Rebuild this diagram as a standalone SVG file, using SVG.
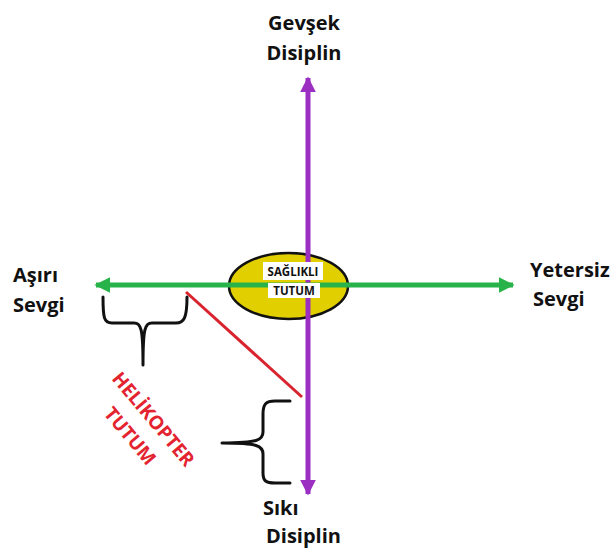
<svg xmlns="http://www.w3.org/2000/svg" width="616" height="550" viewBox="0 0 616 550">
<style>
.lbl{font-family:"Open Sans","Liberation Sans",sans-serif;font-weight:bold;font-size:20px;fill:#111}
.in{font-family:"Open Sans","Liberation Sans",sans-serif;font-weight:bold;font-size:11.5px;fill:#111;text-anchor:middle}
.heli{font-family:"Open Sans","Liberation Sans",sans-serif;font-weight:bold;font-size:19px;fill:#e42330}
.brace{fill:none;stroke:#111;stroke-width:3;stroke-linejoin:round;stroke-linecap:round}
</style>
<defs>
<marker id="ap" viewBox="0 0 10 10" refX="9" refY="5" markerWidth="3.2" markerHeight="3.2" markerUnits="strokeWidth" orient="auto">
<path d="M0,0 L10,5 L0,10 z" fill="#9b2fc2"/>
</marker>
<marker id="ag" viewBox="0 0 10 10" refX="9" refY="5" markerWidth="3.2" markerHeight="3.2" markerUnits="strokeWidth" orient="auto">
<path d="M0,0 L10,5 L0,10 z" fill="#27b34a"/>
</marker>
</defs>
<rect width="616" height="550" fill="#fff"/>
<g id="saglikli-shape">
<ellipse cx="288.5" cy="286" rx="59.5" ry="33" fill="#e2cf00" stroke="#111" stroke-width="2.5"/>
</g>
<g id="connectors">
<line x1="308" y1="285" x2="308" y2="78" stroke="#9b2fc2" stroke-width="5" marker-end="url(#ap)"/>
<line x1="308" y1="285" x2="308" y2="494" stroke="#9b2fc2" stroke-width="5" marker-end="url(#ap)"/>
<line x1="300" y1="285" x2="96" y2="285" stroke="#27b34a" stroke-width="5" marker-end="url(#ag)"/>
<line x1="300" y1="285" x2="513" y2="285" stroke="#27b34a" stroke-width="5" marker-end="url(#ag)"/>
<line x1="186" y1="292" x2="302" y2="397" stroke="#d9232e" stroke-width="3"/>
</g>
<g id="saglikli">
<rect x="263" y="262" width="60" height="18" fill="#fff"/>
<rect x="268" y="283" width="52" height="15" fill="#fff"/>
<text class="in" x="293" y="276">SAĞLIKLI</text>
<text class="in" x="294" y="295">TUTUM</text>
</g>
<g id="gevsek">
<text class="lbl" x="304" y="30" text-anchor="middle">Gevşek</text>
<text class="lbl" x="304" y="60" text-anchor="middle">Disiplin</text>
</g>
<g id="siki">
<text class="lbl" x="263" y="515">Sıkı</text>
<text class="lbl" x="266" y="543">Disiplin</text>
</g>
<g id="asiri">
<text class="lbl" x="13" y="282">Aşırı</text>
<text class="lbl" x="13" y="312">Sevgi</text>
</g>
<g id="yetersiz">
<text class="lbl" x="530" y="277">Yetersiz</text>
<text class="lbl" x="533" y="306">Sevgi</text>
</g>
<g id="helikopter">
<path class="brace" d="M103,297 C103,318 104,323 112,323 L134,323 C141,323 143,328 143,365 C143,328 145,323 152,323 L176,323 C184,323 187,318 187,297"/>
<path class="brace" d="M290,401 L275,401 C266,401 263,404 263,414 L263,432 C263,440 258,443 222,443 C258,443 263,446 263,454 L263,473 C263,481 266,483 275,483 L290,483"/>
<text class="heli" transform="translate(111,379) rotate(50)">HELİKOPTER</text>
<text class="heli" transform="translate(103,414) rotate(50)">TUTUM</text>
</g>
</svg>
